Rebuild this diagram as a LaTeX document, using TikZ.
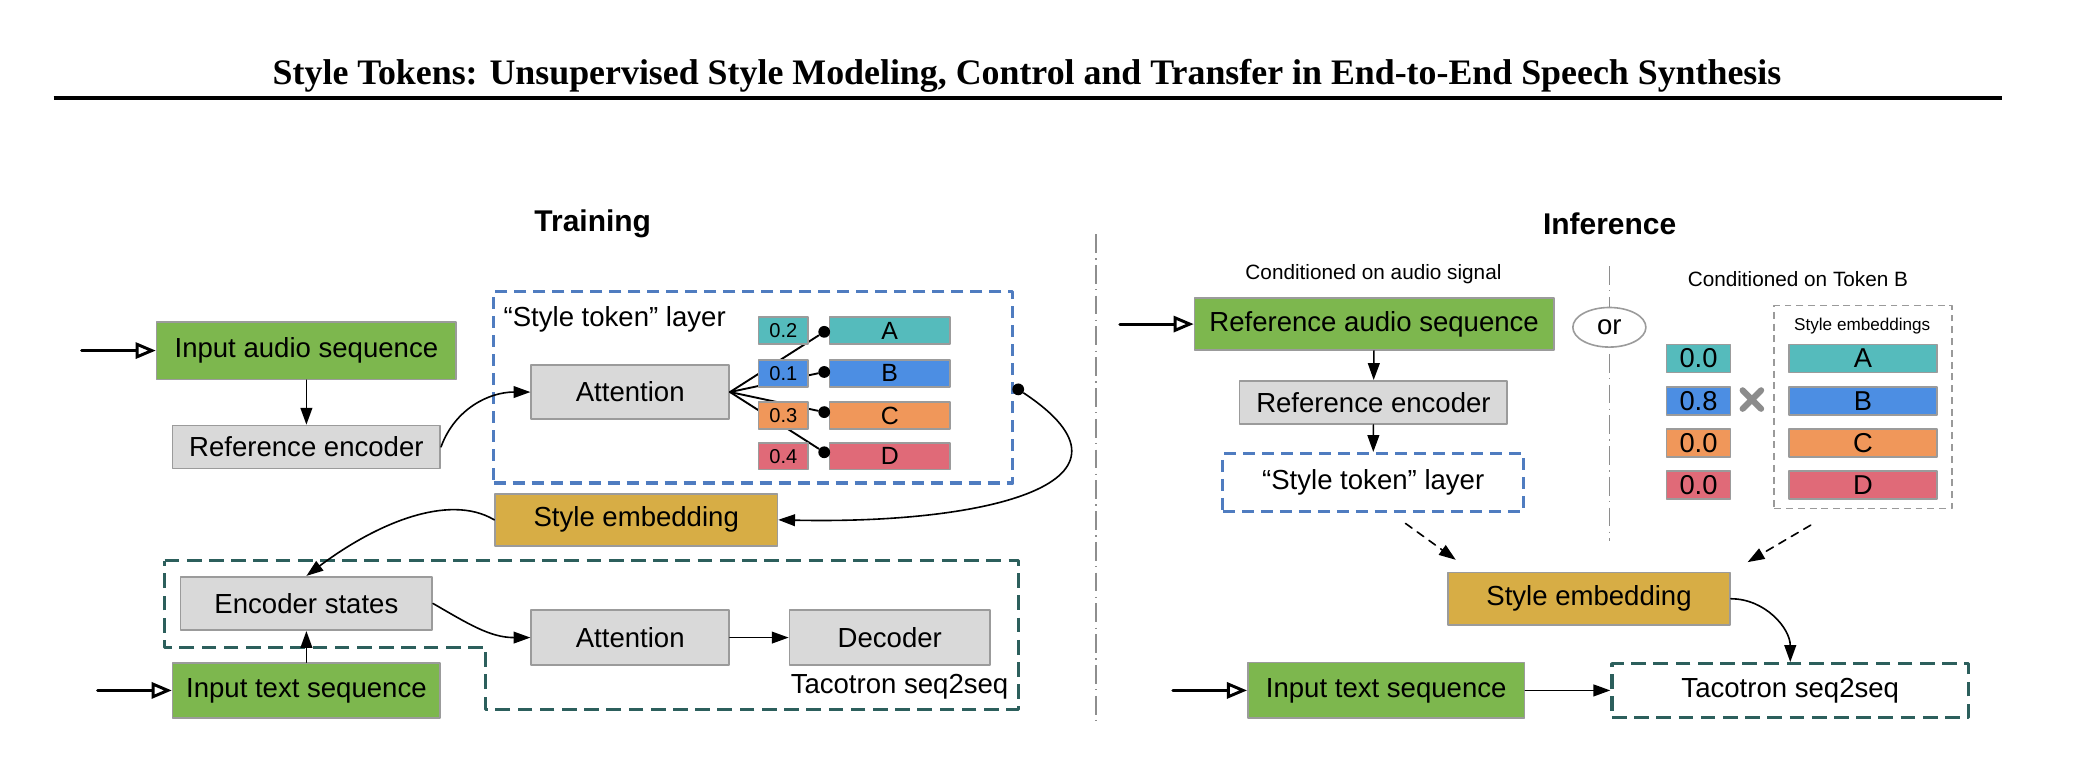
\documentclass[tikz,border=0pt]{standalone}
\usepackage{fontspec}
\setmainfont{Liberation Sans}
\newfontfamily\titlefont{Liberation Serif}
\usetikzlibrary{arrows.meta, shapes.geometric}

\definecolor{boxgray}{HTML}{D9D9D9}
\definecolor{boxline}{HTML}{9B9B9B}
\definecolor{audiogreen}{HTML}{7DB74E}
\definecolor{embgold}{HTML}{D7AD45}
\definecolor{tokteal}{HTML}{55BBBC}
\definecolor{tokblue}{HTML}{4C8EE3}
\definecolor{tokorange}{HTML}{F0975A}
\definecolor{tokred}{HTML}{E06A78}
\definecolor{layerblue}{HTML}{4F7CC0}
\definecolor{tacoteal}{HTML}{2C5F5C}
\definecolor{embframe}{HTML}{9A9A9A}
\definecolor{sepgray}{HTML}{8E8E8E}
\definecolor{multgray}{HTML}{8C8C8C}

\begin{document}
\begin{tikzpicture}[x=0.5pt, y=-0.5pt, line cap=round, line join=round, font=\fontsize{10.3pt}{12pt}\selectfont]
			\tikzset{box/.style={draw=boxline, line width=0.6pt, inner sep=0pt},
				graybox/.style={box, fill=boxgray},
				greenbox/.style={box, fill=audiogreen},
				goldbox/.style={box, fill=embgold, minimum width=105.5pt, minimum height=19.5pt},
				wbox/.style={box, minimum width=18.5pt, minimum height=10pt, font=\fontsize{7.5pt}{9pt}\selectfont},
				tokbox/.style={box, minimum width=45pt, minimum height=10pt, font=\fontsize{9.3pt}{10pt}\selectfont},
				wboxR/.style={box, minimum width=23.8pt, minimum height=10.5pt, font=\fontsize{10.2pt}{12pt}\selectfont},
				tokboxR/.style={box, minimum width=55.25pt, minimum height=10.5pt, font=\fontsize{10.2pt}{12pt}\selectfont},
				layerdash/.style={draw=layerblue, line width=1.2pt, line cap=butt, dash pattern=on 4.5pt off 2.6pt, inner sep=0pt},
				tacodash/.style={draw=tacoteal, line width=1.2pt, line cap=butt, dash pattern=on 5.5pt off 2.8pt, inner sep=0pt},
				embdash/.style={draw=embframe, line width=0.6pt, line cap=butt, dash pattern=on 2.6pt off 1.8pt},
				sepline/.style={draw=sepgray, line width=0.5pt, line cap=butt, dash pattern=on 7pt off 2pt on 0.5pt off 2pt},
				arr/.style={-{Triangle[length=6.3pt,width=4.4pt]}, line width=0.6pt},
				dasharr/.style={arr, dash pattern=on 3pt off 2.4pt},
				inarr/.style={-{Triangle[open,length=7.5pt,width=6pt]}, line width=1.1pt},
				fan/.style={line width=0.7pt},
				dot/.style={circle, fill=black, inner sep=0pt, minimum size=4.4pt},
				orshape/.style={ellipse, draw=boxline, line width=0.6pt, inner sep=0pt, minimum width=27.3pt, minimum height=14.8pt},
				small/.style={font=\fontsize{7.75pt}{9pt}\selectfont},
				head/.style={font=\fontsize{11.2pt}{13pt}\selectfont\bfseries}}
			\useasboundingbox (0,0) rectangle (1568,580);
			% title and rule
			\node[anchor=base, font=\titlefont\bfseries\fontsize{13.4pt}{16pt}\selectfont] (title) at (767.6,63.5) {Style Tokens: Unsupervised Style Modeling, Control and Transfer in End-to-End Speech Synthesis};
			\draw[line width=1.5pt, line cap=butt] (40,73) -- (1496,73);
			\node[head] (trainHead) at (443,167) {Training};
			\node[head] (inferHead) at (1203,167) {Inference};
			% training
			\node[greenbox, minimum width=112pt, minimum height=21.5pt] (inAudio) at (229,262) {Input audio sequence};
			\node[graybox, minimum width=100pt, minimum height=16pt] (refEnc) at (229,334) {Reference encoder};
			\node[layerdash, minimum width=194pt, minimum height=71.5pt] (tokLayer) at (563,289.5) {};
			\node[anchor=west, inner sep=0pt] (tokLabel) at (376,238.5) {“Style token” layer};
			\node[graybox, minimum width=74pt, minimum height=20pt] (att) at (471,293) {Attention};
			\node[tokbox, fill=tokteal] (tokA) at (665,247) {A};
			\node[tokbox, fill=tokblue] (tokB) at (665,279) {B};
			\node[tokbox, fill=tokorange] (tokC) at (665,310.5) {C};
			\node[tokbox, fill=tokred] (tokD) at (665,341) {D};
			\node[dot] (dA) at (616,248) {};
			\node[dot] (dB) at (616,278) {};
			\node[dot] (dC) at (616,308) {};
			\node[dot] (dD) at (616,338) {};
			\draw[fan] (att.east) -- (dA);
			\draw[fan] (att.east) -- (dB);
			\draw[fan] (att.east) -- (dC);
			\draw[fan] (att.east) -- (dD);
			\node[wbox, fill=tokteal] (wA) at (585.5,247) {0.2};
			\node[wbox, fill=tokblue] (wB) at (585.5,279) {0.1};
			\node[wbox, fill=tokorange] (wC) at (585.5,310.5) {0.3};
			\node[wbox, fill=tokred] (wD) at (585.5,341) {0.4};
			\node[dot] (dOut) at (761,291) {};
			\node[goldbox] (emb) at (475.5,388.5) {Style embedding};
			\draw[tacodash] (123,419) -- (761,419) -- (761,530) -- (363,530) -- (363,484) -- (123,484) -- cycle;
			\node[graybox, minimum width=94pt, minimum height=20pt] (enc) at (229,451) {Encoder states};
			\node[greenbox, minimum width=100pt, minimum height=20.5pt] (inText) at (229,516) {Input text sequence};
			\node[graybox, minimum width=74pt, minimum height=20.5pt] (att2) at (471,476.5) {Attention};
			\node[graybox, minimum width=75pt, minimum height=20.5pt] (dec) at (665,476.5) {Decoder};
			\node[anchor=east, inner sep=0pt] (tacoLbl) at (754,513) {Tacotron seq2seq};
			\coordinate (inA) at (61,262);
			\coordinate (inT) at (73,516);
			\draw[inarr] (inA) -- (inAudio);
			\draw[inarr] (inT) -- (inText);
			\draw[arr] (inAudio) -- (refEnc);
			\draw[arr] (refEnc.east) to[out=70, in=180] (att.west);
			\draw[arr] (dOut) .. controls (865,360) and (740,392) .. (emb.east);
			\draw[arr] (emb.west) .. controls (335,368) and (280,392) .. (enc.north);
			\draw[arr] (inText) -- (enc);
			\draw[arr] (enc.east) to[out=-30, in=180] (att2.west);
			\draw[arr] (att2) -- (dec);
			% separator
			\draw[sepline] (819,175) -- (819,540);
			% inference
			\node[small] (condAudio) at (1026.5,205) {Conditioned on audio signal};
			\node[greenbox, minimum width=134.25pt, minimum height=19.5pt] (refAudio) at (1027,242.2) {Reference audio sequence};
			\node[graybox, minimum width=100pt, minimum height=16.2pt] (refEnc2) at (1026.5,300.8) {Reference encoder};
			\node[layerdash, minimum width=112.35pt, minimum height=21.5pt] (tokLayer2) at (1026.3,360.5) {“Style token” layer};
			\node[goldbox] (emb2) at (1187.6,447.5) {Style embedding};
			\node[greenbox, minimum width=103.4pt, minimum height=20.75pt] (inText2) at (1036,516) {Input text sequence};
			\node[tacodash, minimum width=133.3pt, minimum height=20pt] (taco2) at (1338,516) {Tacotron seq2seq};
			\node[orshape] (or) at (1202.8,244.6) {or};
			\draw[sepline] (1202.8,198.8) -- (or.north);
			\draw[sepline] (1202.8,264.4) -- (1202.8,404);
			\node[small] (condTok) at (1343.7,208.4) {Conditioned on Token B};
			\node[wboxR, fill=tokteal] (wA2) at (1269.4,268) {0.0};
			\node[wboxR, fill=tokblue] (wB2) at (1269.4,299.5) {0.8};
			\node[wboxR, fill=tokorange] (wC2) at (1269.4,331) {0.0};
			\node[wboxR, fill=tokred] (wD2) at (1269.4,362.5) {0.0};
			\node[minimum size=6.5pt, inner sep=0pt] (mult) at (1309.3,298.6) {};
			\draw[draw=multgray, line width=2.3pt] (mult.north west) -- (mult.south east) (mult.north east) -- (mult.south west);
			\node[embdash, minimum width=66.5pt, minimum height=75.85pt, inner sep=0pt] (embBox) at (1392.5,304.2) {};
			\node[font=\fontsize{6.4pt}{8pt}\selectfont] (embLbl) at (1391.8,243.8) {Style embeddings};
			\node[tokboxR, fill=tokteal] (tokA2) at (1392.3,268) {A};
			\node[tokboxR, fill=tokblue] (tokB2) at (1392.3,299.5) {B};
			\node[tokboxR, fill=tokorange] (tokC2) at (1392.3,331) {C};
			\node[tokboxR, fill=tokred] (tokD2) at (1392.3,362.5) {D};
			\coordinate (inA2) at (837,242.2);
			\coordinate (inT2) at (876.6,516);
			\draw[inarr] (inA2) -- (refAudio);
			\draw[inarr] (inT2) -- (inText2);
			\draw[arr] (refAudio) -- (refEnc2);
			\draw[arr] (refEnc2) -- (tokLayer2);
			\draw[dasharr, shorten <=6.8pt, shorten >=7.7pt] (tokLayer2.-60) -- (emb2.167);
			\draw[dasharr, shorten <=11.7pt, shorten >=7.2pt] (embBox.-104.4) -- (emb2.north east);
			\draw[arr] (emb2.east) to[out=0, in=90] (taco2.north);
			\draw[arr] (inText2) -- (taco2);
		\end{tikzpicture}
\end{document}
